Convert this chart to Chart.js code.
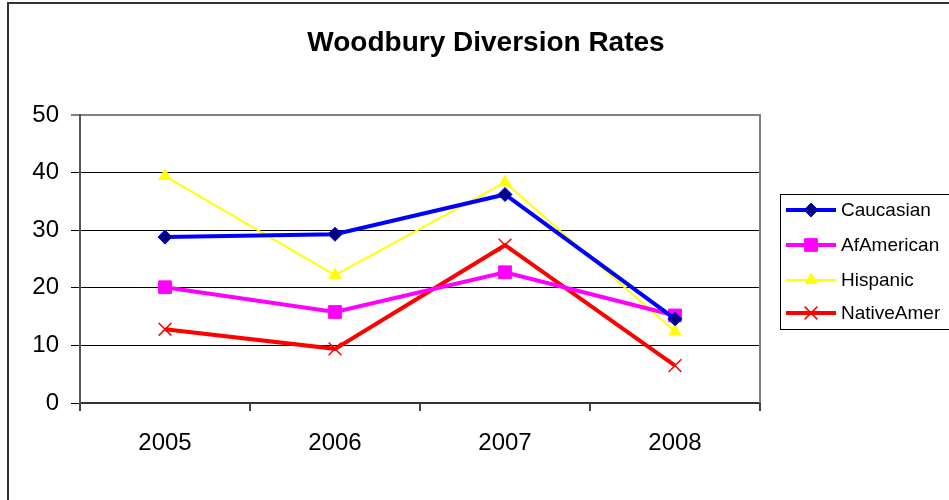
<!DOCTYPE html>
<html>
<head>
<meta charset="utf-8">
<script src="https://cdn.jsdelivr.net/npm/chart.js@4.4.1/dist/chart.umd.min.js"></script>
<style>
  html, body { margin: 0; padding: 0; background: #fff; }
  #wrap { width: 949px; height: 500px; position: relative; }
</style>
</head>
<body>
<div id="wrap"><canvas id="c" width="949" height="500"></canvas></div>
<script>
// Diversion rates by year
const years = ['2005', '2006', '2007', '2008'];
const caucasian = [28.8, 29.3, 36.2, 14.6];
const afAmerican = [20.1, 15.8, 22.7, 15.2];
const hispanic = [39.4, 22.2, 38.3, 12.4];
const nativeAmer = [12.8, 9.4, 27.4, 6.5];
const yTicks = [0, 10, 20, 30, 40, 50];
const titleText = 'Woodbury Diversion Rates';

const FONT = "'Liberation Sans', Arial, sans-serif";

const series = [
  { label: 'Caucasian', data: caucasian, borderColor: '#0000FF', backgroundColor: '#000080',
    borderWidth: 4, pointStyle: 'rectRot', pointRadius: 7, pointBorderColor: '#0000FF',
    pointBackgroundColor: '#000080', pointBorderWidth: 1 },
  { label: 'AfAmerican', data: afAmerican, borderColor: '#FF00FF', backgroundColor: '#FF00FF',
    borderWidth: 4, pointStyle: 'rect', pointRadius: 9, pointBorderColor: '#FF00FF',
    pointBackgroundColor: '#FF00FF', pointBorderWidth: 1 },
  { label: 'Hispanic', data: hispanic, borderColor: '#FFFF00', backgroundColor: '#FFFF00',
    borderWidth: 2, pointStyle: 'triangle', pointRadius: 7, pointBorderColor: '#FFFF00',
    pointBackgroundColor: '#FFFF00', pointBorderWidth: 1 },
  { label: 'NativeAmer', data: nativeAmer, borderColor: '#FF0000', backgroundColor: '#FF0000',
    borderWidth: 4, pointStyle: 'crossRot', pointRadius: 9, pointBorderColor: '#FF0000',
    pointBackgroundColor: '#FF0000', pointBorderWidth: 1.5 }
];

// Outer frame, title, right border of the plot and the boxed legend
const decorations = {
  id: 'decorations',
  beforeDraw(chart) {
    const ctx = chart.ctx;
    ctx.save();
    ctx.fillStyle = '#fff';
    ctx.fillRect(0, 0, chart.width, chart.height);
    ctx.restore();
  },
  afterDatasetsDraw(chart) {
    const ctx = chart.ctx;
    const a = chart.chartArea;
    ctx.save();
    // right border of plot
    ctx.strokeStyle = '#808080';
    ctx.lineWidth = 2;
    ctx.beginPath();
    ctx.moveTo(a.right, a.top - 1);
    ctx.lineTo(a.right, a.bottom);
    ctx.stroke();
    ctx.restore();
  },
  afterDraw(chart) {
    const ctx = chart.ctx;
    ctx.save();
    // outer frame
    ctx.strokeStyle = '#333';
    ctx.lineWidth = 2;
    ctx.beginPath();
    ctx.moveTo(8, chart.height + 2);
    ctx.lineTo(8, 3);
    ctx.lineTo(chart.width + 2, 3);
    ctx.stroke();

    // title
    ctx.fillStyle = '#000';
    ctx.font = 'bold 28px ' + FONT;
    ctx.textAlign = 'center';
    ctx.textBaseline = 'alphabetic';
    ctx.fillText(titleText, 486, 51);

    // legend
    const lx = 780, ly = 194, lw = 180, lh = 135;
    ctx.strokeStyle = '#000';
    ctx.lineWidth = 1;
    ctx.strokeRect(lx + 0.5, ly + 0.5, lw, lh);
    ctx.font = '19px ' + FONT;
    ctx.textAlign = 'left';
    ctx.textBaseline = 'middle';
    const rows = [210, 245, 280, 313];
    chart.data.datasets.forEach((ds, i) => {
      const y = rows[i];
      ctx.strokeStyle = ds.borderColor;
      ctx.lineWidth = ds.borderWidth;
      ctx.beginPath();
      ctx.moveTo(786, y);
      ctx.lineTo(836, y);
      ctx.stroke();
      ctx.fillStyle = ds.pointBackgroundColor;
      ctx.strokeStyle = ds.pointBorderColor;
      ctx.lineWidth = ds.pointBorderWidth;
      Chart.helpers.drawPoint(ctx, {
        pointStyle: ds.pointStyle, radius: ds.pointRadius, rotation: 0,
        borderWidth: ds.pointBorderWidth
      }, 811, y);
      ctx.fillStyle = '#000';
      ctx.fillText(ds.label, 841, y + 1);
    });
    ctx.restore();
  }
};

new Chart(document.getElementById('c'), {
  type: 'line',
  data: {
    labels: years,
    datasets: series.map(s => Object.assign({ fill: false, tension: 0 }, s))
  },
  options: {
    responsive: false,
    animation: false,
    devicePixelRatio: 1,
    layout: { padding: { top: 115, right: 189, left: 0, bottom: 0 } },
    plugins: {
      legend: { display: false },
      title: { display: false },
      tooltip: { enabled: false }
    },
    scales: {
      x: {
        offset: true,
        grid: { offset: true, drawOnChartArea: false, drawTicks: true, tickLength: 8, color: '#444', lineWidth: 2 },
        border: { display: true, color: '#333', width: 2 },
        ticks: { color: '#000', font: { family: FONT, size: 24 }, padding: 18, maxRotation: 0 },
        afterFit(scale) { scale.height = 97; }
      },
      y: {
        min: 0, max: 50,
        afterBuildTicks(scale) { scale.ticks = yTicks.map(v => ({ value: v })); },
        grid: {
          drawTicks: true, tickLength: 9,
          color: ctx => (ctx.tick && ctx.tick.value === 50) ? '#808080' : '#000',
          lineWidth: ctx => (ctx.tick && ctx.tick.value === 50) ? 2 : 1
        },
        border: { display: true, color: '#555', width: 2 },
        ticks: { color: '#000', font: { family: FONT, size: 24 }, padding: 12 },
        afterFit(scale) { scale.width = 80; }
      }
    }
  },
  plugins: [decorations]
});
</script>
</body>
</html>
